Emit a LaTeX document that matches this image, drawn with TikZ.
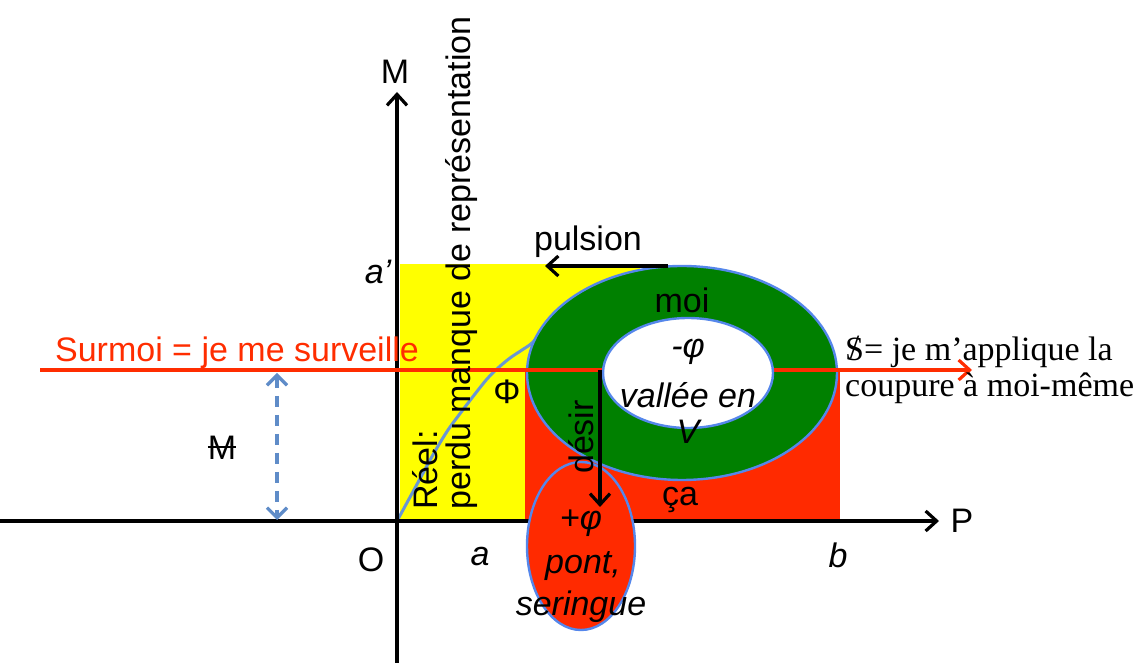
\documentclass[tikz,border=0pt]{standalone}
\usepackage{fontspec}
\setmainfont{Liberation Sans}
\newfontfamily\serifface{Liberation Serif}
\usetikzlibrary{arrows.meta,shapes.geometric}
\definecolor{yel}{RGB}{255,255,0}
\definecolor{redfill}{RGB}{255,42,0}
\definecolor{grn}{RGB}{0,128,0}
\definecolor{ellblue}{RGB}{85,135,235}
\definecolor{curveblue}{RGB}{105,150,210}
\definecolor{dashblue}{RGB}{95,140,200}
\definecolor{redline}{RGB}{255,45,0}
\newcommand{\barS}{\ooalign{S\cr\hidewidth\raisebox{0.05em}{/}\hidewidth}}
\newcommand{\barM}{\rlap{\rule[0.33em]{0.833em}{0.06em}}M}
\begin{document}
\begin{tikzpicture}[x=1pt,y=1pt,
  lbl/.style={font=\fontsize{34}{40}\selectfont, inner sep=0pt},
  ilbl/.style={font=\fontsize{34}{40}\selectfont\itshape, inner sep=0pt},
  slbl/.style={font=\serifface\fontsize{34}{40}\selectfont, inner sep=0pt, anchor=west},
  tip/.style={-{Straight Barb[length=11pt,width=20pt,line width=3.2pt]}},
  axis/.style={line width=3.2pt, black, tip},
  blk/.style={line width=3.2pt, black, tip},
  ellline/.style={draw=ellblue, line width=2.4pt}]
\useasboundingbox (0,0) rectangle (1139,663);

% regions
\fill[yel] (400,142) rectangle (640,399);
\fill[redfill] (525,142) rectangle (840,293);

% blue curve
\draw[curveblue, line width=3pt, line join=round]
  plot[smooth] coordinates {(397,142) (415,175) (434,210) (448,233) (462,252) (475,269) (487,284) (498,295) (510,305) (522,313) (533,321) (548,340)};

% green ring
\node[ellipse, minimum width=310pt, minimum height=214pt, fill=grn, ellline] (moiring) at (682,290) {};

% axes
\coordinate (ybot) at (397,0);
\coordinate (ytop) at (397,571);
\coordinate (xl) at (0,142);
\coordinate (xr) at (939,142);
\draw[axis] (ybot) -- (ytop);
\draw[axis] (xl) -- (xr);

% red line
\coordinate (rl) at (40,293);
\coordinate (rr) at (972,293);
\draw[redline, line width=3.4pt, tip] (rl) -- (rr);

% inner white ellipse
\node[ellipse, minimum width=170pt, minimum height=110pt, fill=white, ellline] (hole) at (688,290) {};

% small red ellipse
\node[ellipse, minimum width=108pt, minimum height=168pt, fill=redfill, ellline] (pont) at (581,117) {};

% arrows
\coordinate (ps) at (668,397);
\coordinate (pe) at (545,397);
\draw[blk] (ps) -- (pe);
\coordinate (ds) at (600,293);
\coordinate (de) at (600,156);
\draw[blk] (ds) -- (de);

% dashed double arrow
\coordinate (da) at (277,290);
\coordinate (db) at (277,143);
\draw[dashblue, line width=3.4pt, dash pattern=on 11pt off 8pt,
  {Straight Barb[length=10pt,width=20pt,line width=3.2pt]}-{Straight Barb[length=10pt,width=20pt,line width=3.2pt]}] (da) -- (db);

% labels
\node[lbl] (lM) at (395,591) {M};
\node[lbl] (lP) at (962,142) {P};
\node[lbl] (lO) at (371,103) {O};
\node[ilbl] (la2) at (378,391) {a’};
\node[ilbl] (la) at (480,106) {a};
\node[ilbl] (lb) at (838,108) {b};
\node[lbl] (lpuls) at (588,421) {pulsion};
\node[lbl, text=redline] (lsur) at (237,310) {Surmoi = je me surveille};
\node[lbl] (lbarM) at (222,215) {\barM};
\node[lbl] (lmoi) at (682,363) {moi};
\node[ilbl] (lphi) at (688,311) {-φ};
\node[ilbl] (lval) at (688,268) {vallée en};
\node[ilbl] (lV) at (688,231) {V};
\node[lbl] (lca) at (680,163) {ça};
\node[lbl, rotate=90] (ldes) at (581,226) {désir};
\node[ilbl] (lpphi) at (581,140) {+φ};
\node[ilbl] (lpont) at (583,97) {pont,};
\node[ilbl] (lser) at (581,56) {seringue};
\node[lbl] (lPhi) at (507,271) {Φ};
\node[lbl, rotate=90, anchor=west] (lreel) at (425,153) {Réel:};
\node[lbl, rotate=90, anchor=west] (lperdu) at (462,153) {perdu manque de représentation};
\node[slbl] (ls1) at (845,311) {\barS= je m’applique la};
\node[slbl] (ls2) at (845,275) {coupure à moi-même};
\end{tikzpicture}
\end{document}
